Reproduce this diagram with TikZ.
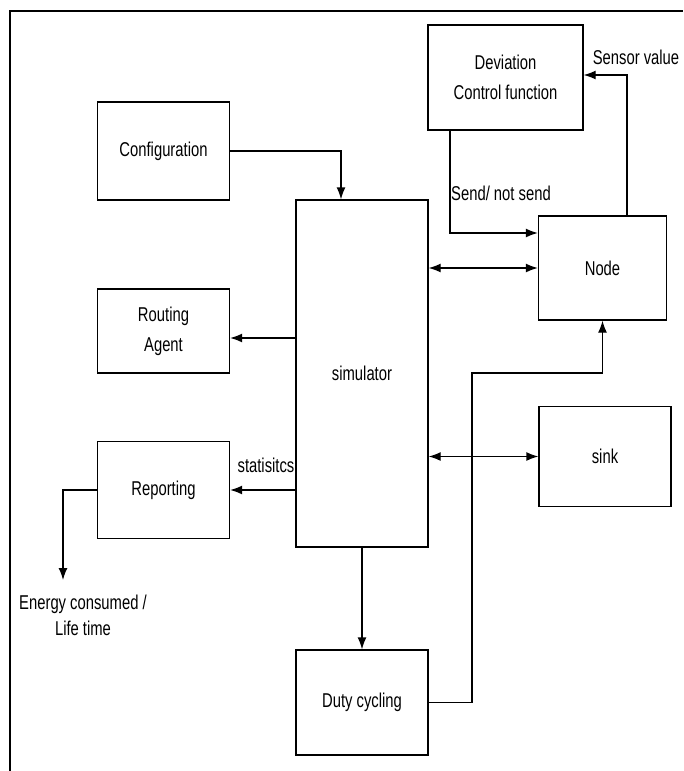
\documentclass[tikz,border=0pt]{standalone}
\usepackage{fontspec}
\setmainfont{Liberation Sans}[FakeStretch=0.74]
\usetikzlibrary{arrows.meta}
\begin{document}
\begin{tikzpicture}[x=1pt,y=-1pt,
  box/.style={draw,line width=1.3pt,rectangle,inner sep=0pt,align=center,font=\fontsize{20}{30}\selectfont},
  lbl/.style={inner sep=0pt,align=center,font=\fontsize{20}{26}\selectfont},
  arr/.style={line width=1.3pt,-{Latex[length=12pt,width=9pt]}},
  darr/.style={line width=1.3pt,{Latex[length=12pt,width=9pt]}-{Latex[length=12pt,width=9pt]}}]
\useasboundingbox (0,0) rectangle (683,771);
\draw[line width=2.8pt] (10,771) -- (10,11) -- (683,11);
\node[box,minimum width=155pt,minimum height=105pt] (dev) at (505.5,77.5) {Deviation\\Control function};
\node[box,minimum width=132pt,minimum height=98pt] (conf) at (163.5,151) {Configuration};
\node[box,minimum width=132pt,minimum height=347pt] (sim) at (362,373.5) {simulator};
\node[box,minimum width=128pt,minimum height=104pt] (nd) at (602.5,268) {Node};
\node[box,minimum width=132pt,minimum height=84pt] (rout) at (163.5,331) {Routing\\Agent};
\node[box,minimum width=132pt,minimum height=97pt] (rep) at (163.5,490) {Reporting};
\node[box,minimum width=132pt,minimum height=100pt] (sink) at (605,456.5) {sink};
\node[box,minimum width=132pt,minimum height=105pt] (duty) at (362,702.5) {Duty cycling};
\node[lbl] (sensor) at (636,57) {Sensor value};
\node[lbl] (send) at (501,193) {Send/ not send};
\node[lbl] (stat) at (266,465) {statisitcs};
\node[lbl] (energy) at (83,615) {Energy consumed /\\Life time};
\coordinate (eend) at (63,580);
\coordinate (dutyturn) at (472,373);
\coordinate (rin) at ([yshift=-7pt]rout.east);
% connectors
\draw[arr] (conf.east) -| ([xshift=-21pt]sim.north);
\draw[arr] (sim.west |- rin) -- (rin);
\draw[arr] (sim.west |- rep.east) -- (rep.east);
\draw[arr] (rep.west) -| (eend);
\draw[darr] (sim.east |- nd.west) -- (nd.west);
\draw[darr] (sim.east |- sink.west) -- (sink.west);
\draw[arr] (sim.south) -- (duty.north);
\draw[arr] (duty.east) -| (dutyturn) -| (nd.south);
\draw[arr] ([xshift=24.5pt]nd.north) |- ([yshift=2.5pt]dev.east);
\draw[arr] ([xshift=-55.5pt]dev.south) |- ([yshift=35pt]nd.west);
\end{tikzpicture}
\end{document}
